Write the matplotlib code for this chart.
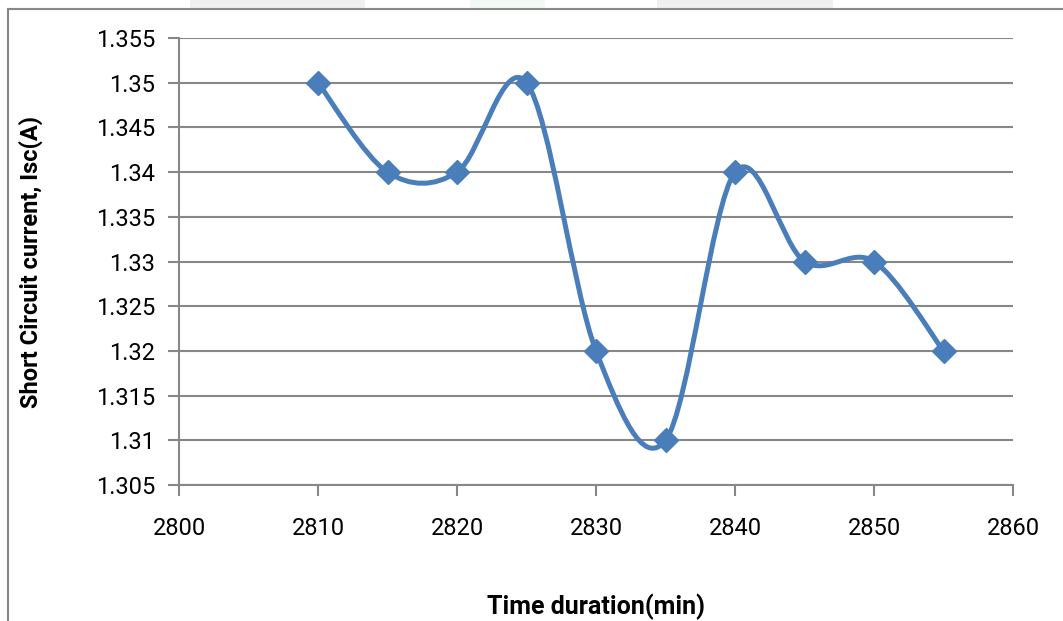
import matplotlib
matplotlib.use("Agg")
import matplotlib.pyplot as plt
from matplotlib.path import Path
from matplotlib.patches import PathPatch, Rectangle
from matplotlib.lines import Line2D

# ---- data ----
time_min = [2810, 2815, 2820, 2825, 2830, 2835, 2840, 2845, 2850, 2855]
isc = [1.35, 1.34, 1.34, 1.35, 1.32, 1.31, 1.34, 1.33, 1.33, 1.32]

x_ticks = [2800, 2810, 2820, 2830, 2840, 2850, 2860]
y_ticks = [1.305, 1.31, 1.315, 1.32, 1.325, 1.33, 1.335, 1.34, 1.345, 1.35, 1.355]
y_labels = ['1.305', '1.31', '1.315', '1.32', '1.325', '1.33', '1.335',
            '1.34', '1.345', '1.35', '1.355']

line_col = '#4A7EBB'
grid_col = '#878787'

plt.rcParams['font.family'] = ['Roboto', 'DejaVu Sans']

fig = plt.figure(figsize=(10.63, 6.21), dpi=100)
ax = fig.add_axes([0.1684, 0.219, 0.7846, 0.7198])

# smoothed line like excel: bezier segments through the points
pts = list(zip(time_min, isc))
n = len(pts)
verts = [pts[0]]
codes = [Path.MOVETO]
for i in range(n - 1):
    p0 = pts[max(i - 1, 0)]
    p1 = pts[i]
    p2 = pts[i + 1]
    p3 = pts[min(i + 2, n - 1)]
    c1 = (p1[0] + (p2[0] - p0[0]) / 6, p1[1] + (p2[1] - p0[1]) / 6)
    c2 = (p2[0] - (p3[0] - p1[0]) / 6, p2[1] - (p3[1] - p1[1]) / 6)
    verts += [c1, c2, p2]
    codes += [Path.CURVE4] * 3
ax.add_patch(PathPatch(Path(verts, codes), fill=False, edgecolor=line_col,
                       lw=3.6, capstyle='round', joinstyle='round', zorder=3))
ax.plot(time_min, isc, ls='none', marker='D', ms=12.5, color=line_col,
        markeredgecolor=line_col, zorder=4)

ax.set_xlim(2800, 2860)
ax.set_ylim(1.305, 1.355)
ax.set_xticks(x_ticks)
ax.set_yticks(y_ticks)
ax.set_yticklabels(y_labels)
ax.tick_params(axis='both', labelsize=17, color=grid_col, length=8, width=1.5,
               direction='out', pad=9)
ax.tick_params(axis='x', pad=15)

ax.grid(axis='y', color=grid_col, lw=1.5)
ax.set_axisbelow(True)
for s in ['top', 'right']:
    ax.spines[s].set_visible(False)
for s in ['left', 'bottom']:
    ax.spines[s].set_color(grid_col)
    ax.spines[s].set_linewidth(1.5)

ax.set_xlabel('Time duration(min)', fontsize=18, fontweight='bold')
ax.set_ylabel('Short Circuit current, Isc(A)', fontsize=17, fontweight='bold')
ax.xaxis.set_label_coords(0.5, -0.244)
ax.yaxis.set_label_coords(-0.163, 0.5)

# outer chart border (left and top only are visible)
fig.add_artist(Line2D([8 / 1063, 8 / 1063], [0, 1 - 9 / 621],
                      color='#888888', lw=1.5))
fig.add_artist(Line2D([8 / 1063, 1], [1 - 9 / 621, 1 - 9 / 621],
                      color='#888888', lw=1.5))
# faint background shapes above the border
fig.add_artist(Rectangle((190 / 1063, 1 - 8 / 621), 175 / 1063, 8 / 621,
                         transform=fig.transFigure, color='#f0f0f0', lw=0))
fig.add_artist(Rectangle((470 / 1063, 1 - 8 / 621), 75 / 1063, 8 / 621,
                         transform=fig.transFigure, color='#f2f8f4', lw=0))
fig.add_artist(Rectangle((657 / 1063, 1 - 8 / 621), 176 / 1063, 8 / 621,
                         transform=fig.transFigure, color='#f0f0f0', lw=0))

fig.savefig('out.png', dpi=100)
